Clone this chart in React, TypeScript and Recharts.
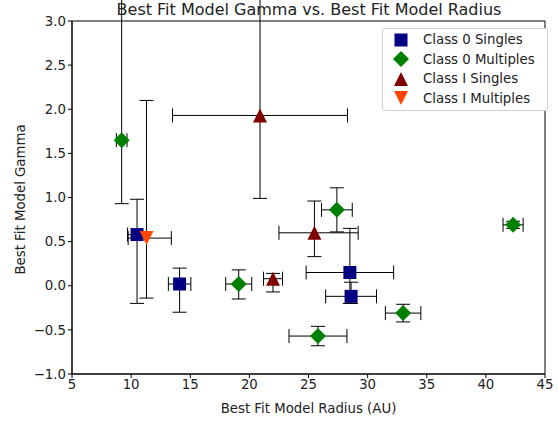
import React from 'react';
import { ScatterChart, Scatter, XAxis, YAxis, ErrorBar, ReferenceArea, Legend } from 'recharts';

const FONT = '"DejaVu Sans", sans-serif';
const FS = 13.3;

// Class 0 Singles
const c0sX = [10.5, 14.1, 28.5, 28.6];
const c0sY = [0.58, 0.02, 0.15, -0.12];
const c0sXErrLo = [0.8, 0.95, 3.7, 2.15];
const c0sXErrHi = [0.8, 0.95, 3.7, 2.15];
const c0sYErrLo = [0.78, 0.32, 0.35, 0.08];
const c0sYErrHi = [0.4, 0.18, 0.5, 0.16];

// Class 0 Multiples
const c0mX = [9.2, 19.1, 27.4, 25.8, 33.0, 42.3];
const c0mY = [1.65, 0.02, 0.86, -0.57, -0.31, 0.69];
const c0mXErrLo = [0.45, 1.1, 1.3, 2.45, 1.5, 0.85];
const c0mXErrHi = [0.45, 1.1, 1.3, 2.45, 1.5, 0.85];
const c0mYErrLo = [0.72, 0.17, 0.25, 0.11, 0.1, 0.04];
const c0mYErrHi = [2.0, 0.16, 0.25, 0.11, 0.1, 0.04];

// Class I Singles
const c1sX = [20.9, 25.5, 22.0];
const c1sY = [1.93, 0.6, 0.08];
const c1sXErrLo = [7.4, 3.0, 0.8];
const c1sXErrHi = [7.4, 3.7, 0.8];
const c1sYErrLo = [0.94, 0.27, 0.15];
const c1sYErrHi = [2.0, 0.36, 0.06];

// Class I Multiples
const c1mX = [11.3];
const c1mY = [0.54];
const c1mXErrLo = [1.55];
const c1mXErrHi = [2.1];
const c1mYErrLo = [0.68];
const c1mYErrHi = [1.56];

const xTicks = [5, 10, 15, 20, 25, 30, 35, 40, 45];
const yTicks = [-1.0, -0.5, 0.0, 0.5, 1.0, 1.5, 2.0, 2.5, 3.0];

function build(x: number[], y: number[], xl: number[], xh: number[], yl: number[], yh: number[]) {
  return x.map((v, i) => ({ x: v, y: y[i], ex: [xl[i], xh[i]], ey: [yl[i], yh[i]] }));
}

const Square = (p: any) => {
  const s = 13;
  return <rect x={p.cx - s / 2} y={p.cy - s / 2} width={s} height={s} fill={p.fill} />;
};
const Diamond = (p: any) => {
  const r = 8;
  return <polygon points={`${p.cx},${p.cy - r} ${p.cx + r},${p.cy} ${p.cx},${p.cy + r} ${p.cx - r},${p.cy}`} fill={p.fill} />;
};
const TriUp = (p: any) => {
  const r = 7;
  return <polygon points={`${p.cx},${p.cy - r} ${p.cx + r},${p.cy + r} ${p.cx - r},${p.cy + r}`} fill={p.fill} />;
};
const TriDown = (p: any) => {
  const r = 7;
  return <polygon points={`${p.cx},${p.cy + r} ${p.cx + r},${p.cy - r} ${p.cx - r},${p.cy - r}`} fill={p.fill} />;
};
const Nothing = () => <g />;

const series = [
  { name: 'Class 0 Singles', color: '#000080', shape: Square, data: build(c0sX, c0sY, c0sXErrLo, c0sXErrHi, c0sYErrLo, c0sYErrHi) },
  { name: 'Class 0 Multiples', color: '#008000', shape: Diamond, data: build(c0mX, c0mY, c0mXErrLo, c0mXErrHi, c0mYErrLo, c0mYErrHi) },
  { name: 'Class I Singles', color: '#800000', shape: TriUp, data: build(c1sX, c1sY, c1sXErrLo, c1sXErrHi, c1sYErrLo, c1sYErrHi) },
  { name: 'Class I Multiples', color: '#FF4500', shape: TriDown, data: build(c1mX, c1mY, c1mXErrLo, c1mXErrHi, c1mYErrLo, c1mYErrHi) },
];

const fmtY = (v: number) => v.toFixed(1).replace('-', '\u2212');

const renderLegend = () => (
  <div style={{ border: '1px solid #d0d0d0', borderRadius: 3, background: '#fff', padding: '1px 6px 2px 6px', fontFamily: FONT, fontSize: FS, color: '#222' }}>
    {series.map((s) => {
      const Shape = s.shape;
      return (
        <div key={s.name} style={{ display: 'flex', alignItems: 'center', height: 19.5, whiteSpace: 'nowrap' }}>
          <svg width={30} height={20} style={{ marginRight: 4, flexShrink: 0 }}>
            <Shape cx={12} cy={10} fill={s.color} />
          </svg>
          <span>{s.name}</span>
        </div>
      );
    })}
  </div>
);

export default function App() {
  return (
    <div style={{ position: 'absolute', left: 0, top: 0, width: 558, height: 421, background: '#fff', fontFamily: FONT }}>
      <ScatterChart width={558} height={421} margin={{ top: 21, right: 13, left: 0, bottom: 7 }} style={{ fontFamily: FONT }}>
        <XAxis
          type="number"
          dataKey="x"
          domain={[5, 45]}
          ticks={xTicks}
          allowDataOverflow
          height={40}
          tickSize={4}
          tick={{ fill: '#222', fontSize: FS, fontFamily: FONT }}
          axisLine={{ stroke: '#000' }}
          tickLine={{ stroke: '#000' }}
          label={{ value: 'Best Fit Model Radius (AU)', position: 'insideBottom', offset: 1, fill: '#222', fontSize: FS, fontFamily: FONT }}
        />
        <YAxis
          type="number"
          dataKey="y"
          domain={[-1, 3]}
          ticks={yTicks}
          allowDataOverflow
          width={72}
          tickSize={4}
          tickFormatter={fmtY}
          tick={{ fill: '#222', fontSize: FS, fontFamily: FONT }}
          axisLine={{ stroke: '#000' }}
          tickLine={{ stroke: '#000' }}
          label={{ value: 'Best Fit Model Gamma', angle: -90, position: 'center', dx: -16, dy: 2, fill: '#222', fontSize: FS, fontFamily: FONT }}
        />
        <ReferenceArea x1={5} x2={45} y1={-1} y2={3} fill="none" stroke="#000" strokeWidth={1} ifOverflow="visible" />
        {series.map((s) => (
          <Scatter key={s.name} name={s.name} data={s.data} fill={s.color} shape={s.shape} isAnimationActive={false} legendType="none" />
        ))}
        {series.map((s) => (
          <Scatter key={s.name + '-err'} name={s.name + ' err'} data={s.data} fill="none" shape={Nothing} isAnimationActive={false} legendType="none">
            <ErrorBar dataKey="ex" direction="x" width={7} stroke="#000" strokeWidth={1} isAnimationActive={false} />
            <ErrorBar dataKey="ey" direction="y" width={7} stroke="#000" strokeWidth={1} isAnimationActive={false} />
          </Scatter>
        ))}
        <Legend layout="vertical" align="center" verticalAlign="middle" content={renderLegend} wrapperStyle={{ position: 'absolute', left: 382, top: 28, width: 166, height: 'auto' }} />
      </ScatterChart>
      <div style={{ position: 'absolute', left: 0, top: 1, width: 618, textAlign: 'center', fontSize: 16, lineHeight: '18px', color: '#222', fontFamily: FONT, whiteSpace: 'nowrap' }}>
        Best Fit Model Gamma vs. Best Fit Model Radius
      </div>
    </div>
  );
}
